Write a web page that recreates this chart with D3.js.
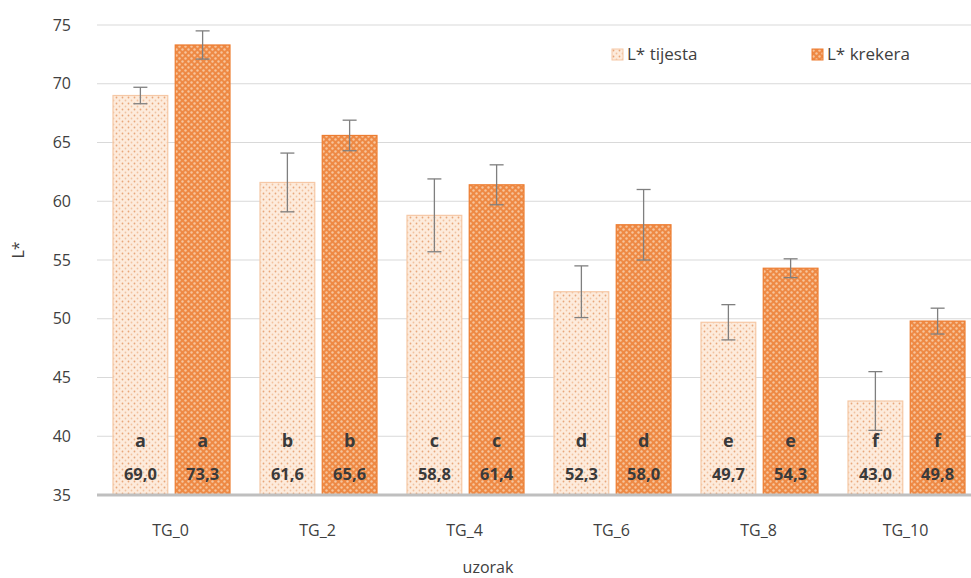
<!DOCTYPE html>
<html><head><meta charset="utf-8">
<script src="https://cdn.jsdelivr.net/npm/d3@7/dist/d3.min.js"></script>
<style>body{margin:0;background:#fff}svg{display:block}</style>
</head><body>
<svg id="c" width="971" height="578"></svg>
<script>
const categories = ["TG_0","TG_2","TG_4","TG_6","TG_8","TG_10"];
const seriesNames = ["L* tijesta","L* krekera"];
const tijesta = [69.0, 61.6, 58.8, 52.3, 49.7, 43.0];
const krekera = [73.3, 65.6, 61.4, 58.0, 54.3, 49.8];
const tijestaErr = [0.7, 2.5, 3.1, 2.2, 1.5, 2.5];
const krekeraErr = [1.2, 1.3, 1.7, 3.0, 0.8, 1.1];
const tijestaLetters = ["a","b","c","d","e","f"];
const krekeraLetters = ["a","b","c","d","e","f"];
const yTicks = [35,40,45,50,55,60,65,70,75];

const svg = d3.select("#c");
const font = "'Open Sans', 'Noto Sans', sans-serif";
const defs = svg.append("defs");
const p1 = defs.append("pattern").attr("id","pT").attr("patternUnits","userSpaceOnUse").attr("width",6).attr("height",6);
p1.append("rect").attr("width",6).attr("height",6).attr("fill","#fdebdc");
p1.append("circle").attr("cx",1.5).attr("cy",1.5).attr("r",0.9).attr("fill","#e9a77a");
p1.append("circle").attr("cx",4.5).attr("cy",4.5).attr("r",0.9).attr("fill","#f2c29f");
const p2 = defs.append("pattern").attr("id","pK").attr("patternUnits","userSpaceOnUse").attr("width",6).attr("height",6);
p2.append("rect").attr("width",6).attr("height",6).attr("fill","#ee8944");
p2.append("circle").attr("cx",1.5).attr("cy",1.5).attr("r",1.2).attr("fill","#f7c59c");
p2.append("circle").attr("cx",4.5).attr("cy",4.5).attr("r",1.2).attr("fill","#f7c59c");

const y = d3.scaleLinear().domain([35,75]).range([495,25]);
const x = d3.scaleBand().domain(categories).range([97,979]).paddingInner(0).paddingOuter(0);
const x1 = d3.scaleBand().domain(seriesNames).range([16,133]).paddingInner(0.12);

svg.append("g").selectAll("line").data(yTicks.filter(t=>t>35)).join("line")
  .attr("x1",97).attr("x2",971).attr("y1",d=>y(d)).attr("y2",d=>y(d))
  .attr("stroke","#d9d9d9").attr("stroke-width",1);

const yAxis = d3.axisLeft(y).tickValues(yTicks).tickSize(0).tickPadding(12);
const ga = svg.append("g").attr("transform","translate(83,0)").call(yAxis);
ga.select(".domain").remove();
ga.selectAll("text").attr("font-family",font).attr("font-size",16).attr("fill","#404040");

const data = categories.map((c,i)=>({c, vals:[
  {s:seriesNames[0], v:tijesta[i], e:tijestaErr[i], l:tijestaLetters[i]},
  {s:seriesNames[1], v:krekera[i], e:krekeraErr[i], l:krekeraLetters[i]}]}));

const groups = svg.append("g").selectAll("g").data(data).join("g")
  .attr("transform",d=>`translate(${x(d.c)},0)`);
const bars = groups.selectAll("g").data(d=>d.vals).join("g");
bars.append("rect")
  .attr("x",d=>x1(d.s)).attr("width",x1.bandwidth())
  .attr("y",d=>y(d.v)).attr("height",d=>y(35)-y(d.v))
  .attr("fill",d=>d.s===seriesNames[0]?"url(#pT)":"url(#pK)")
  .attr("stroke",d=>d.s===seriesNames[0]?"#f6c8a6":"#ed7d31").attr("stroke-width",1.2);
const eb = bars.append("g").attr("stroke","#7f7f7f").attr("stroke-width",1.3);
eb.append("line").attr("x1",d=>x1(d.s)+x1.bandwidth()/2).attr("x2",d=>x1(d.s)+x1.bandwidth()/2)
  .attr("y1",d=>y(d.v+d.e)).attr("y2",d=>y(d.v-d.e));
eb.append("line").attr("x1",d=>x1(d.s)+x1.bandwidth()/2-7).attr("x2",d=>x1(d.s)+x1.bandwidth()/2+7)
  .attr("y1",d=>y(d.v+d.e)).attr("y2",d=>y(d.v+d.e));
eb.append("line").attr("x1",d=>x1(d.s)+x1.bandwidth()/2-7).attr("x2",d=>x1(d.s)+x1.bandwidth()/2+7)
  .attr("y1",d=>y(d.v-d.e)).attr("y2",d=>y(d.v-d.e));
bars.append("text").attr("x",d=>x1(d.s)+x1.bandwidth()/2).attr("y",447)
  .attr("text-anchor","middle").attr("font-family",font).attr("font-size",18).attr("font-weight","bold")
  .attr("fill","#3a3a3a").text(d=>d.l);
bars.append("text").attr("x",d=>x1(d.s)+x1.bandwidth()/2).attr("y",480)
  .attr("text-anchor","middle").attr("font-family",font).attr("font-size",16.5).attr("font-weight","bold")
  .attr("fill","#3a3a3a").text(d=>d.v.toFixed(1).replace(".",","));

svg.append("line").attr("x1",97).attr("x2",971).attr("y1",y(35)).attr("y2",y(35))
  .attr("stroke","#bfbfbf").attr("stroke-width",3);

const xAxis = d3.axisBottom(x).tickSize(0).tickPadding(30);
const gx = svg.append("g").attr("transform",`translate(0,${y(35)})`).call(xAxis);
gx.select(".domain").remove();
gx.selectAll("text").attr("font-family",font).attr("font-size",16).attr("fill","#404040");

svg.append("text").attr("x",488).attr("y",573).attr("text-anchor","middle")
  .attr("font-family",font).attr("font-size",16).attr("fill","#404040").text("uzorak");
svg.append("text").attr("transform","translate(24,250) rotate(-90)").attr("text-anchor","middle")
  .attr("font-family",font).attr("font-size",16).attr("fill","#404040").text("L*");

const leg = svg.append("g").selectAll("g").data(seriesNames).join("g")
  .attr("transform",(d,i)=>`translate(${[612,812][i]},49)`);
leg.append("rect").attr("width",11).attr("height",11)
  .attr("fill",(d,i)=>i===0?"url(#pT)":"url(#pK)")
  .attr("stroke",(d,i)=>i===0?"#f6c8a6":"#ed7d31");
leg.append("text").attr("x",15).attr("y",11).attr("font-family",font).attr("font-size",17)
  .attr("fill","#404040").text(d=>d);
</script>
</body></html>
